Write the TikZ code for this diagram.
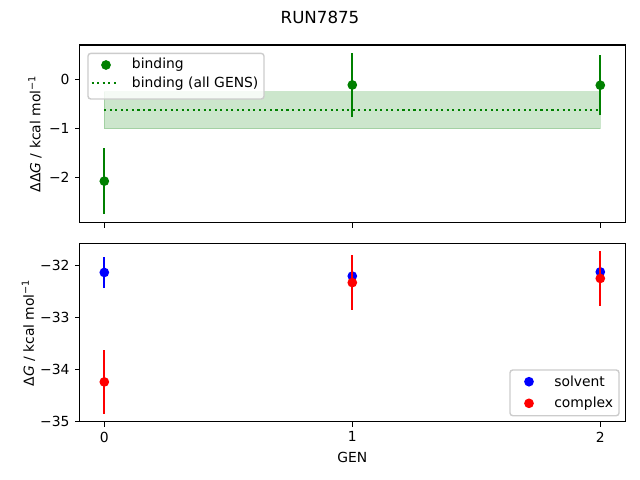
\documentclass[tikz,border=0pt]{standalone}
\usepackage{fontspec}
\setmainfont{DejaVu Sans}
\definecolor{mplgreen}{RGB}{0,128,0}
\definecolor{mplblue}{RGB}{0,0,255}
\definecolor{mplred}{RGB}{255,0,0}
\definecolor{legedge}{RGB}{204,204,204}
\begin{document}
\begin{tikzpicture}[x=0.72pt,y=-0.72pt,font=\fontsize{10}{12}\selectfont,
  frame/.style={line width=0.8pt},
  tickmark/.style={line width=0.8pt},
  ebar/.style={line width=1.5pt},
  dot/.style={circle,inner sep=0pt,minimum size=7pt},
  legbox/.style={draw=legedge,fill=white,fill opacity=0.8,rounded corners=2pt,line width=1pt},
  dotline/.style={line width=1.5pt,dash pattern=on 1.5pt off 2.475pt},
  ylab/.style={left=7pt,inner sep=0pt},
  xlabn/.style={below=7pt,inner sep=0pt}]
\useasboundingbox (0,0) rectangle (640,480);
\node[font=\fontsize{12}{14}\selectfont] (title) at (320,17) {RUN7875};
% ---------- top axes ----------
\begin{scope}[shift={(75.096pt,-57.096pt)},x=178.56pt,y=35.424pt]
  \fill[mplgreen,opacity=0.2] (0,-1.0) rectangle (2,-0.25);
  \draw[mplgreen,opacity=0.2,line width=1pt] (0,-1.0) rectangle (2,-0.25);
  \coordinate (mA) at (0,-0.62);
  \coordinate (mB) at (2,-0.62);
  \draw[mplgreen,dotline] (mA) -- (mB);
  \foreach \i/\x/\v/\e in {0/0/-2.07/0.67,1/1/-0.115/0.645,2/2/-0.12/0.615}{
    \coordinate (bl\i) at (\x,\v-\e);
    \coordinate (bh\i) at (\x,\v+\e);
    \draw[ebar,mplgreen] (bl\i) -- (bh\i);
    \node[dot,fill=mplgreen] (b\i) at (\x,\v) {};
  }
  \draw[frame] (-0.1,-2.915) rectangle (2.1,0.697);
  \foreach \v/\t in {0/0,-1/−1,-2/−2}{
    \draw[tickmark] (-0.1,\v) -- ++(-3.5pt,0pt);
    \node[ylab] (ty\t) at (-0.1,\v) {\t};
  }
  \foreach \x in {0,1,2}{
    \draw[tickmark] (\x,-2.915) -- ++(0pt,-3.5pt);
  }
\end{scope}
% top legend
\node[legbox,minimum width=176*0.72pt,minimum height=45.6*0.72pt,anchor=north west] (leg1) at (87.3,52.7) {};
\node[dot,fill=mplgreen] (lm1) at (106,65) {};
\node[anchor=west,inner sep=0pt] (lt1) at (131.7,65) {binding};
\coordinate (ld1) at (91.7,83.3);
\coordinate (ld2) at (118.3,83.3);
\draw[mplgreen,dotline] (ld1) -- (ld2);
\node[anchor=west,inner sep=0pt] (lt2) at (131.7,83.3) {binding (all GENS)};
\node[rotate=90] (ylab1) at (35,133.9) {ΔΔ\textit{G} / kcal mol\textsuperscript{−1}};
% ---------- bottom axes ----------
\begin{scope}[shift={(75.096pt,1006.776pt)},x=178.56pt,y=37.44pt]
  \foreach \i/\x/\v/\e in {0/0/-32.13/0.30,1/1/-32.20/0.30,2/2/-32.12/0.30}{
    \coordinate (sl\i) at (\x,\v-\e);
    \coordinate (sh\i) at (\x,\v+\e);
    \draw[ebar,mplblue] (sl\i) -- (sh\i);
    \node[dot,fill=mplblue] (s\i) at (\x,\v) {};
  }
  \foreach \i/\x/\v/\e in {0/0/-34.235/0.615,1/1/-32.325/0.525,2/2/-32.245/0.525}{
    \coordinate (cl\i) at (\x,\v-\e);
    \coordinate (ch\i) at (\x,\v+\e);
    \draw[ebar,mplred] (cl\i) -- (ch\i);
    \node[dot,fill=mplred] (c\i) at (\x,\v) {};
  }
  \draw[frame] (-0.1,-35.0) rectangle (2.1,-31.57);
  \foreach \v/\t in {-32/−32,-33/−33,-34/−34,-35/−35}{
    \draw[tickmark] (-0.1,\v) -- ++(-3.5pt,0pt);
    \node[ylab] (by\t) at (-0.1,\v) {\t};
  }
  \foreach \x in {0,1,2}{
    \draw[tickmark] (\x,-35.0) -- ++(0pt,-3.5pt);
    \node[xlabn] (bx\x) at (\x,-35.0) {\x};
  }
\end{scope}
% bottom legend
\node[legbox,minimum width=109*0.72pt,minimum height=45.7*0.72pt,anchor=north west] (leg2) at (509.3,369.3) {};
\node[dot,fill=mplblue] (lm2) at (529,381.7) {};
\node[anchor=west,inner sep=0pt] (lt3) at (554,381.7) {solvent};
\node[dot,fill=mplred] (lm3) at (529,403.3) {};
\node[anchor=west,inner sep=0pt] (lt4) at (554,403.3) {complex};
\node[rotate=90] (ylab2) at (28.5,332.7) {Δ\textit{G} / kcal mol\textsuperscript{−1}};
\node (xlab) at (352.3,457.3) {GEN};
\end{tikzpicture}
\end{document}
